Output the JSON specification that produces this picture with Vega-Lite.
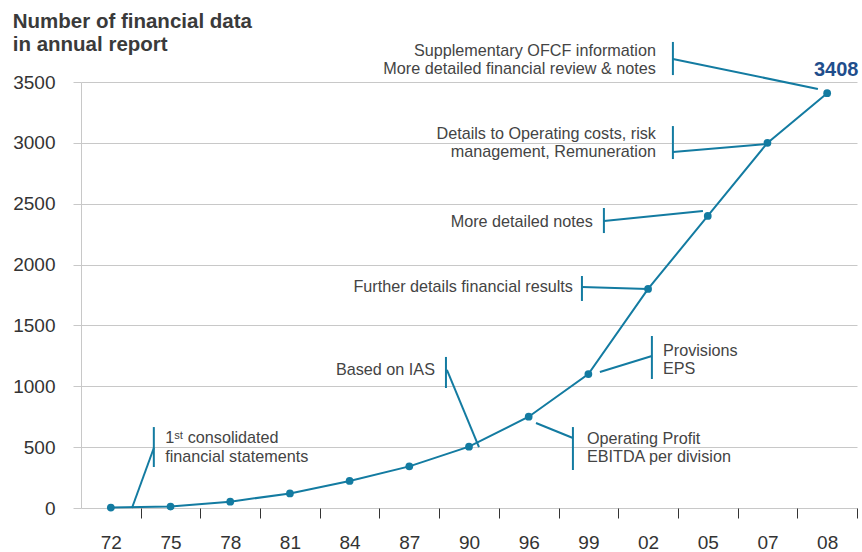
{
  "$schema": "https://vega.github.io/schema/vega-lite/v6.json",
  "width": 776,
  "height": 426,
  "autosize": "none",
  "padding": {"left": 81, "top": 82, "right": 5, "bottom": 44},
  "background": "#ffffff",
  "config": {"view": {"stroke": null}, "font": "Liberation Sans"},
  "title": {
    "text": ["Number of financial data", "in annual report"],
    "anchor": "start",
    "frame": "bounds",
    "font": "Liberation Sans",
    "fontSize": 20.5,
    "fontWeight": "bold",
    "color": "#3a3a3a",
    "lineHeight": 23,
    "offset": 0,
    "dy": 15
  },
  "datasets": {
    "series": [
      {"year": "72", "i": 0, "value": 4},
      {"year": "75", "i": 1, "value": 12},
      {"year": "78", "i": 2, "value": 52},
      {"year": "81", "i": 3, "value": 120},
      {"year": "84", "i": 4, "value": 222},
      {"year": "87", "i": 5, "value": 342},
      {"year": "90", "i": 6, "value": 504},
      {"year": "96", "i": 7, "value": 750},
      {"year": "99", "i": 8, "value": 1100},
      {"year": "02", "i": 9, "value": 1800},
      {"year": "05", "i": 10, "value": 2400},
      {"year": "07", "i": 11, "value": 3000},
      {"year": "08", "i": 12, "value": 3408}
    ],
    "bars": [
      {"x": 0.72, "y": 665, "y2": 337},
      {"x": 5.614, "y": 1241, "y2": 986},
      {"x": 7.741, "y": 665, "y2": 312},
      {"x": 9.064, "y": 1413, "y2": 1060},
      {"x": 7.892, "y": 1906, "y2": 1701},
      {"x": 8.26, "y": 2465, "y2": 2259},
      {"x": 9.416, "y": 3138, "y2": 2867},
      {"x": 9.416, "y": 3829, "y2": 3557}
    ],
    "links": [
      {"x": 0.354, "y": 0, "x2": 0.72, "y2": 493},
      {"x": 5.63, "y": 1134, "x2": 6.167, "y2": 501},
      {"x": 7.122, "y": 698, "x2": 7.741, "y2": 575},
      {"x": 8.193, "y": 1117, "x2": 9.064, "y2": 1249},
      {"x": 7.892, "y": 1816, "x2": 8.998, "y2": 1799},
      {"x": 8.26, "y": 2358, "x2": 9.919, "y2": 2440},
      {"x": 9.416, "y": 2925, "x2": 11.024, "y2": 2991},
      {"x": 9.416, "y": 3689, "x2": 11.845, "y2": 3443}
    ],
    "notesLeft": [
      {"x": 0.91, "y": 575, "text": ["1ˢᵗ consolidated", "financial statements"]},
      {"x": 7.976, "y": 567, "text": ["Operating Profit", "EBITDA per division"]},
      {"x": 9.249, "y": 1290, "text": ["Provisions", "EPS"]}
    ],
    "notesRight": [
      {"x": 5.43, "y": 1134, "text": ["Based on IAS"]},
      {"x": 7.741, "y": 1816, "text": ["Further details financial results"]},
      {"x": 8.076, "y": 2350, "text": ["More detailed notes"]},
      {"x": 9.132, "y": 3073, "text": ["Details to Operating costs, risk", "management, Remuneration"]},
      {"x": 9.132, "y": 3755, "text": ["Supplementary OFCF information", "More detailed financial review & notes"]}
    ]
  },
  "layer": [
    {
      "data": {"name": "series"},
      "mark": {"type": "line", "color": "#137ba1", "strokeWidth": 2},
      "encoding": {
        "x": {
          "field": "i", "type": "quantitative", "title": null,
          "scale": {"domain": [-0.5, 12.5], "nice": false, "zero": false},
          "axis": {
            "values": [0, 1, 2, 3, 4, 5, 6, 7, 8, 9, 10, 11, 12],
            "labelExpr": "['72','75','78','81','84','87','90','96','99','02','05','07','08'][datum.value]",
            "grid": false, "domain": false,
            "tickOffset": 29.85, "labelOffset": -29.85,
            "tickColor": "#333333", "tickSize": 10, "tickWidth": 1,
            "labelFont": "Liberation Sans", "labelFontSize": 19, "labelColor": "#333333",
            "labelPadding": 15, "labelFlush": false, "labelOverlap": false
          }
        },
        "y": {
          "field": "value", "type": "quantitative", "title": null,
          "scale": {"domain": [0, 3500], "nice": false},
          "axis": {
            "values": [0, 500, 1000, 1500, 2000, 2500, 3000, 3500],
            "format": "d",
            "grid": true, "gridColor": "#c8c8c8", "gridWidth": 1,
            "domainColor": "#c8c8c8", "tickColor": "#c8c8c8", "tickSize": 8,
            "labelFont": "Liberation Sans", "labelFontSize": 19, "labelColor": "#333333",
            "labelPadding": 18
          }
        }
      }
    },
    {
      "data": {"name": "bars"},
      "mark": {"type": "rule", "color": "#137ba1", "strokeWidth": 2},
      "encoding": {
        "x": {"field": "x", "type": "quantitative", "title": null},
        "y": {"field": "y", "type": "quantitative", "title": null},
        "y2": {"field": "y2"}
      }
    },
    {
      "data": {"name": "links"},
      "mark": {"type": "rule", "color": "#137ba1", "strokeWidth": 2},
      "encoding": {
        "x": {"field": "x", "type": "quantitative", "title": null},
        "y": {"field": "y", "type": "quantitative", "title": null},
        "x2": {"field": "x2"},
        "y2": {"field": "y2"}
      }
    },
    {
      "data": {"name": "notesLeft"},
      "mark": {"type": "text", "align": "left", "baseline": "middle", "font": "Liberation Sans", "fontSize": 16.2, "color": "#444444", "lineHeight": 18.5},
      "encoding": {
        "x": {"field": "x", "type": "quantitative", "title": null},
        "y": {"field": "y", "type": "quantitative", "title": null},
        "text": {"field": "text", "type": "nominal"}
      }
    },
    {
      "data": {"name": "notesRight"},
      "mark": {"type": "text", "align": "right", "baseline": "middle", "font": "Liberation Sans", "fontSize": 16.2, "color": "#444444", "lineHeight": 18.5},
      "encoding": {
        "x": {"field": "x", "type": "quantitative", "title": null},
        "y": {"field": "y", "type": "quantitative", "title": null},
        "text": {"field": "text", "type": "nominal"}
      }
    },
    {
      "data": {"name": "series"},
      "mark": {"type": "point", "filled": true, "size": 60, "color": "#137ba1", "opacity": 1},
      "encoding": {
        "x": {"field": "i", "type": "quantitative", "title": null},
        "y": {"field": "value", "type": "quantitative", "title": null}
      }
    },
    {
      "data": {"name": "series"},
      "transform": [{"filter": "datum.year == '08'"}],
      "mark": {"type": "text", "align": "center", "baseline": "middle", "font": "Liberation Sans", "fontSize": 20, "fontWeight": "bold", "color": "#1f4e8c", "dx": 9, "dy": -23},
      "encoding": {
        "x": {"field": "i", "type": "quantitative", "title": null},
        "y": {"field": "value", "type": "quantitative", "title": null},
        "text": {"field": "value", "type": "quantitative", "format": "d"}
      }
    }
  ]
}
